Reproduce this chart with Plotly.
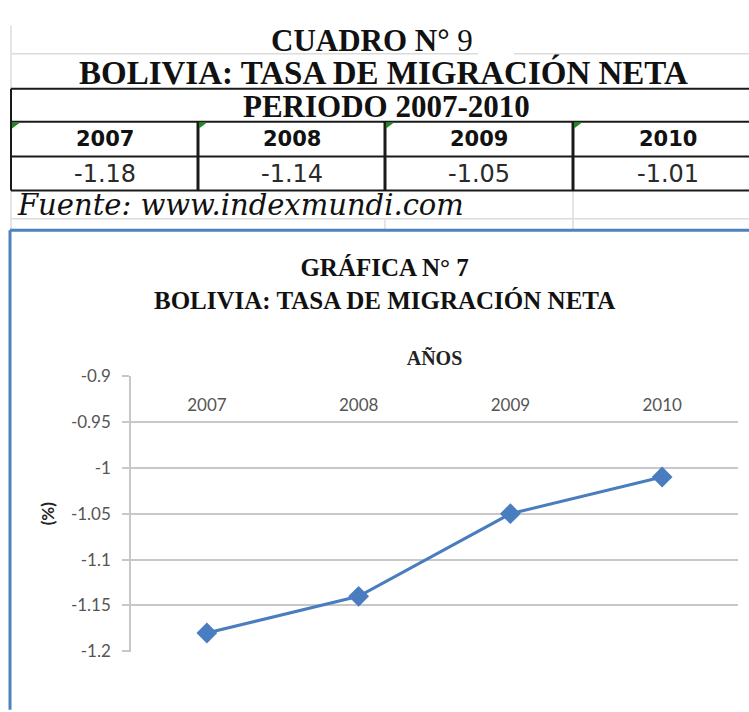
import plotly.graph_objects as go

# datos del cuadro / grafica
years = ["2007", "2008", "2009", "2010"]
tasa = [-1.18, -1.14, -1.05, -1.01]
tasa_text = ["-1.18", "-1.14", "-1.05", "-1.01"]
y_ticks = [-1.2, -1.15, -1.1, -1.05, -1.0, -0.95, -0.9]
y_tick_labels = ["-1.2", "-1.15", "-1.1", "-1.05", "-1", "-0.95", "-0.9"]

W, H = 749, 712


def px(x):
    return x / W


def py(y):
    return 1 - y / H


def line(x0, y0, x1, y1, color, width):
    return dict(type="line", xref="paper", yref="paper",
                x0=px(x0), y0=py(y0), x1=px(x1), y1=py(y1),
                line=dict(color=color, width=width))


def label(x, y, text, size, family, xanchor="center", color="#111111", style="normal"):
    return dict(xref="paper", yref="paper", x=px(x), y=py(y), text=text,
                showarrow=False, xanchor=xanchor, yanchor="middle",
                font=dict(size=size, family=family, color=color, style=style))


serif = "Liberation Serif"
col_edges = [11, 198, 385, 573, 760]
dark = "#1a1a1a"
light = "#dcdcdc"
blue_frame = "#4f81bd"

shapes = []
# rejilla clara de la hoja
shapes.append(line(11, 15, 11, 80, light, 1.5))
shapes.append(line(11, 44, 478, 44, light, 1.5))
shapes.append(line(514, 44, 760, 44, light, 1.5))
shapes.append(line(11, 185, 11, 225, light, 1.5))
shapes.append(line(573, 185, 573, 225, light, 1.5))
shapes.append(line(11, 214, 760, 214, light, 1.5))
shapes.append(line(385, 214, 385, 225, light, 1.5))
# bordes del cuadro
shapes.append(line(11, 80, 760, 80, dark, 2))
shapes.append(line(11, 114, 760, 114, dark, 2))
shapes.append(line(11, 150, 760, 150, dark, 2))
shapes.append(line(11, 185, 760, 185, dark, 2))
shapes.append(line(11, 80, 11, 185, dark, 2))
for xe in col_edges[1:4]:
    shapes.append(line(xe, 114, xe, 185, dark, 3))
# triangulitos verdes de Excel
for xe in col_edges[:4]:
    shapes.append(dict(type="path", xref="paper", yref="paper",
                       path=f"M {px(xe + 1)},{py(115)} L {px(xe + 9)},{py(115)} L {px(xe + 1)},{py(121)} Z",
                       fillcolor="#1f8a1f", line=dict(width=0)))
# marco azul del grafico
shapes.append(line(10, 226, 760, 226, blue_frame, 3))
shapes.append(line(10, 226, 10, 720, blue_frame, 3))

annotations = [
    label(372, 30, "<b>CUADRO N°</b> 9", 31, serif),
    label(383, 63, "<b>BOLIVIA: TASA DE MIGRACIÓN NETA</b>", 33, serif),
    label(386, 98.5, "<b>PERIODO 2007-2010</b>", 31, serif),
    label(15, 200, "Fuente: www.indexmundi.com", 29, "DejaVu Serif", xanchor="left", style="italic"),
    label(385, 281, "<b>GRÁFICA N° 7</b><br><b>BOLIVIA: TASA DE MIGRACIÓN NETA</b>", 25, serif),
]
for i, yr in enumerate(years):
    cx = (col_edges[i] + col_edges[i + 1]) / 2 if i < 3 else 668
    annotations.append(label(cx, 132, f"<b>{yr}</b>", 21, "DejaVu Sans"))
    annotations.append(label(cx, 168, tasa_text[i], 24, "DejaVu Sans", color="#2a2a2a"))

fig = go.Figure()
fig.add_trace(go.Scatter(
    x=years, y=tasa, mode="lines+markers",
    line=dict(color="#4a7cc0", width=3),
    marker=dict(symbol="diamond", size=16, color="#4a7cc0"),
    showlegend=False,
))

fig.update_layout(
    width=W, height=H,
    margin=dict(l=0, r=0, t=0, b=0),
    paper_bgcolor="white", plot_bgcolor="white",
    shapes=shapes, annotations=annotations,
    xaxis=dict(
        domain=[px(131), px(738)],
        type="category", range=[-0.5, 3.5],
        side="top", anchor="free", position=py(416),
        showgrid=False, zeroline=False,
        showline=False, ticks="",
        tickfont=dict(family="Lato", size=17, color="#555555"),
        title=dict(text="<b>AÑOS</b>", standoff=22,
                   font=dict(family=serif, size=20, color="#222222")),
    ),
    yaxis=dict(
        domain=[py(660), py(376)],
        range=[-1.2002, -0.8998],
        tickvals=y_ticks, ticktext=y_tick_labels,
        showgrid=True, gridcolor="#c8c8c8", gridwidth=1.5,
        zeroline=False,
        showline=True, linecolor="#c8c8c8", linewidth=1.5,
        ticks="outside", ticklen=7, tickcolor="#c8c8c8", tickwidth=1.5,
        ticklabelstandoff=8,
        tickfont=dict(family="Lato", size=17, color="#555555"),
        title=dict(text="<b>(%)</b>", standoff=12,
                   font=dict(family="Lato", size=17, color="#222222")),
    ),
)

fig.write_html("out.html", config={"displayModeBar": False},
               post_script="document.body.style.margin = '0';")
